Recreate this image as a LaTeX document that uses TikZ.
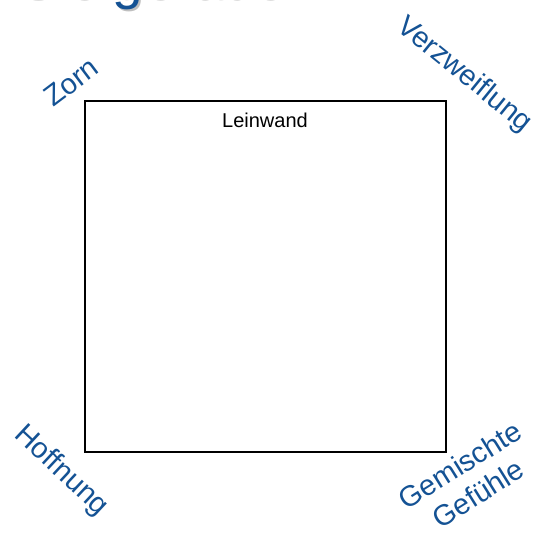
\documentclass[tikz,border=0pt]{standalone}
\usepackage{fontspec}
\setmainfont{Liberation Sans}
\definecolor{blu}{RGB}{20,82,148}
\begin{document}
\begin{tikzpicture}[x=1pt,y=-1pt,
  lbl/.style={text=blu, font=\fontsize{29}{34}\selectfont, inner sep=0pt, align=center},
  ttl/.style={anchor=base west, font=\fontsize{55}{60}\selectfont, inner sep=0pt}]
\useasboundingbox (0,0) rectangle (540,537);
\clip (0,0) rectangle (540,537);
\node[ttl, text=black!25] (tshadow) at (20,1) {Sie gerade?};
\node[ttl, text=blu] (title) at (18,-1.5) {Sie gerade?};
\node[draw, line width=2.5pt, minimum width=361pt, minimum height=351pt, inner sep=0pt, outer sep=0pt] (canvas) at (265.5,276.5) {};
\node[font=\fontsize{20}{23}\selectfont, inner sep=0pt] (lw) at (265,120) {Leinwand};
\node[lbl, rotate=37] (zorn) at (71,82) {Zorn};
\node[lbl, rotate=-39] (verz) at (464,75) {Verzweiflung};
\node[lbl, rotate=-43] (hoff) at (61,471) {Hoffnung};
\node[lbl, rotate=32] (gem) at (469,479) {Gemischte\\Gefühle};
\end{tikzpicture}
\end{document}
